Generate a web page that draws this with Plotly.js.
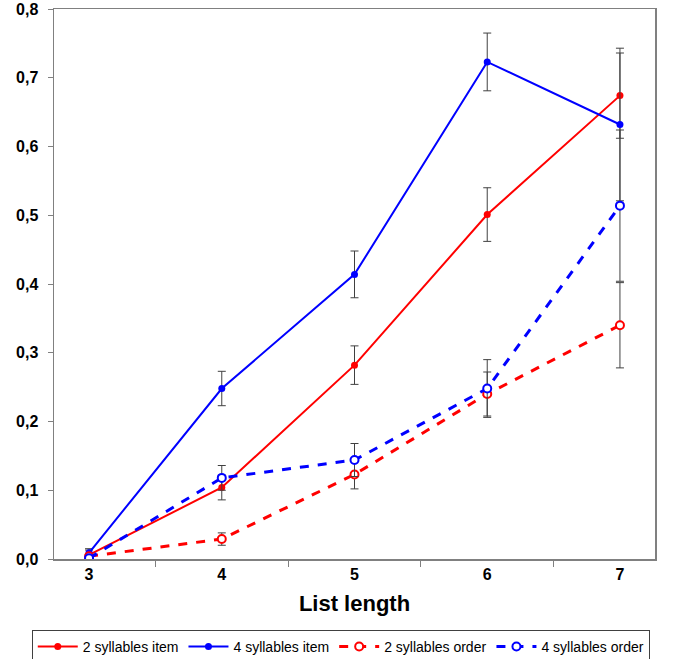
<!DOCTYPE html>
<html>
<head>
<meta charset="utf-8">
<script src="https://cdn.plot.ly/plotly-3.0.1.min.js"></script>
<style>
  html, body { margin: 0; padding: 0; background: #fff; }
  #chart { width: 680px; height: 659px; }
</style>
</head>
<body>
<div id="chart"></div>
<script>
// list lengths (category axis)
const listLength = ["3", "4", "5", "6", "7"];

// proportion recalled
const item2 = [0.006, 0.104, 0.282, 0.501, 0.674];
const item2Err = [0.007, 0.018, 0.028, 0.039, 0.062];

const item4 = [0.009, 0.248, 0.414, 0.723, 0.632];
const item4Err = [0.006, 0.025, 0.034, 0.042, 0.111];

const order2 = [0.004, 0.029, 0.123, 0.240, 0.340];
const order2Err = [0.004, 0.009, 0.021, 0.032, 0.062];

const order4 = [0.001, 0.118, 0.144, 0.248, 0.514];
const order4Err = [0.004, 0.018, 0.024, 0.042, 0.110];

const errStyle = (arr) => ({
  type: "data", array: arr, visible: true,
  color: "#404040", thickness: 1, width: 4
});

const traces = [
  {
    name: "2 syllables item", x: listLength, y: item2, error_y: errStyle(item2Err),
    mode: "lines+markers", line: { color: "#ff0000", width: 2 },
    marker: { color: "#ff0000", size: 7, symbol: "circle" }
  },
  {
    name: "4 syllables item", x: listLength, y: item4, error_y: errStyle(item4Err),
    mode: "lines+markers", line: { color: "#0000ff", width: 2 },
    marker: { color: "#0000ff", size: 7, symbol: "circle" }
  },
  {
    name: "2 syllables order", x: listLength, y: order2, error_y: errStyle(order2Err),
    mode: "lines+markers", line: { color: "#ff0000", width: 3, dash: "dash" },
    marker: { color: "#ffffff", size: 8, symbol: "circle", line: { color: "#ff0000", width: 2 } }
  },
  {
    name: "4 syllables order", x: listLength, y: order4, error_y: errStyle(order4Err),
    mode: "lines+markers", line: { color: "#0000ff", width: 3, dash: "dash" },
    marker: { color: "#ffffff", size: 8, symbol: "circle", line: { color: "#0000ff", width: 2 } }
  }
];

const tickFont = { family: "Liberation Sans, Arial, sans-serif", size: 16, color: "#000", weight: "bold" };

Plotly.newPlot("chart", traces, {
  width: 680,
  height: 659,
  separators: ",.",
  paper_bgcolor: "#fff",
  plot_bgcolor: "#fff",
  margin: { l: 54, r: 25, t: 9, b: 100, pad: 0, autoexpand: false },
  font: { family: "Liberation Sans, Arial, sans-serif", color: "#000" },
  xaxis: {
    type: "category",
    automargin: false,
    tickson: "boundaries",
    ticks: "outside",
    ticklen: 6,
    tickcolor: "#808080",
    showline: true,
    linecolor: "#808080",
    linewidth: 1.5,
    mirror: true,
    showgrid: false,
    zeroline: false,
    tickfont: tickFont,
    title: { text: "List length", font: { size: 22, weight: "bold", color: "#000" }, standoff: 14 }
  },
  yaxis: {
    range: [0, 0.8],
    automargin: false,
    dtick: 0.1,
    tickformat: ".1f",
    ticks: "outside",
    ticklen: 5,
    tickcolor: "#808080",
    showline: true,
    linecolor: "#808080",
    linewidth: 1.5,
    mirror: true,
    showgrid: false,
    zeroline: false,
    tickfont: tickFont,
    ticklabelstandoff: 6
  },
  showlegend: true,
  legend: {
    orientation: "h",
    x: -0.037,
    xanchor: "left",
    y: -0.129,
    yanchor: "top",
    itemwidth: 40,
    bordercolor: "#404040",
    borderwidth: 1,
    font: { size: 14, color: "#000" },
    traceorder: "normal"
  }
}, { displayModeBar: false, staticPlot: true });
</script>
</body>
</html>
